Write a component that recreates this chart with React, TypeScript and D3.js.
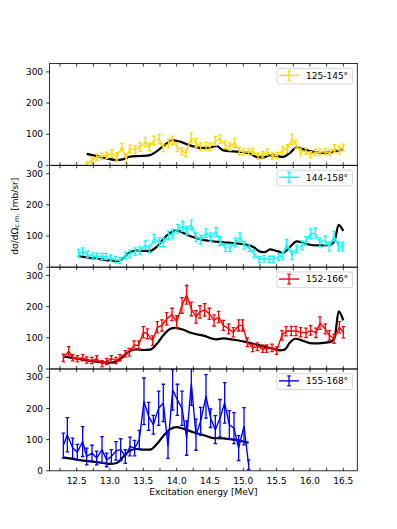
import React from 'react';
import * as d3 from 'd3';

const W = 397, H = 529;
const L = 49.6, R = 357.3, T = 63.5, B = 470.8;
const PH = (B - T) / 4;

const xMajor = [12.5, 13.0, 13.5, 14.0, 14.5, 15.0, 15.5, 16.0, 16.5];
const xMinor = [12.25, 12.75, 13.25, 13.75, 14.25, 14.75, 15.25, 15.75, 16.25];
const yTicks = [0, 100, 200, 300];
const xDomain = [12.094, 16.71];
const yDomain = [0, 327];

// Panel 1: 125-145°
const yelE = [12.65,12.73,12.80,12.88,12.95,13.03,13.10,13.18,13.24,13.30,13.38,13.45,13.53,13.59,13.66,13.74,13.80,13.88,13.94,14.01,14.08,14.14,14.22,14.29,14.36,14.44,14.50,14.58,14.65,14.73,14.80,14.87,14.94,15.00,15.08,15.14,15.22,15.29,15.36,15.44,15.51,15.59,15.66,15.73,15.79,15.86,15.94,16.01,16.08,16.15,16.23,16.30,16.37,16.44,16.50];
const yelV = [4,16,26,29,32,38,29,59,22,53,50,59,75,59,80,84,56,70,80,58,45,40,88,72,60,62,60,78,84,66,60,72,46,43,43,45,30,34,43,30,32,48,54,83,67,43,45,34,41,43,43,41,54,48,56];
const yelErr = [6,10,10,10,10,12,12,12,14,12,12,14,14,12,14,15,12,14,14,14,12,12,16,14,12,12,12,14,14,12,12,14,12,10,10,10,10,10,10,10,10,12,12,16,14,12,10,10,10,10,10,10,12,12,12];
const yelThE = [12.65,12.8,12.95,13.1,13.2,13.3,13.45,13.6,13.7,13.85,13.95,14.05,14.2,14.35,14.5,14.6,14.7,14.85,15.0,15.1,15.2,15.3,15.4,15.5,15.6,15.7,15.8,15.9,16.0,16.1,16.2,16.3,16.4,16.5];
const yelThV = [37,30,22,17,20,28,30,33,45,70,80,76,64,56,57,62,48,45,42,38,27,25,33,30,27,40,58,52,46,42,40,42,45,54];

// Panel 2: 144-158°
const cyaE = [12.53,12.59,12.66,12.74,12.80,12.88,12.94,13.01,13.08,13.15,13.23,13.30,13.38,13.45,13.53,13.59,13.66,13.74,13.80,13.88,13.94,14.02,14.09,14.15,14.22,14.29,14.36,14.44,14.51,14.59,14.65,14.73,14.80,14.88,14.95,15.01,15.09,15.16,15.24,15.31,15.39,15.45,15.53,15.59,15.65,15.73,15.80,15.88,15.94,16.01,16.08,16.15,16.23,16.29,16.36,16.43,16.49];
const cyaV = [45,50,41,36,35,34,34,29,24,21,38,43,50,54,70,59,91,80,80,102,107,123,131,118,135,96,88,109,96,113,84,62,62,80,96,70,62,43,24,27,25,25,32,38,75,38,59,70,84,107,109,80,86,66,100,66,66];
const cyaErr = [12,12,10,10,10,10,10,10,10,10,10,12,12,12,14,12,14,14,14,14,14,14,16,14,16,14,14,14,14,14,14,12,12,14,14,12,12,12,10,10,10,10,10,12,14,14,12,14,14,16,16,14,14,14,16,14,14];
const cyaThE = [12.53,12.7,12.9,13.05,13.12,13.2,13.3,13.4,13.5,13.6,13.7,13.8,13.9,14.0,14.1,14.2,14.35,14.5,14.7,14.9,15.05,15.15,15.25,15.32,15.4,15.5,15.6,15.7,15.8,15.9,16.0,16.1,16.2,16.3,16.37,16.43,16.5];
const cyaThV = [35,30,24,20,19,30,48,53,52,52,65,90,110,118,110,100,90,84,80,76,72,65,50,48,57,52,47,65,83,78,72,70,70,72,85,136,116];

// Panel 3: 152-166°
const redE = [12.30,12.38,12.44,12.51,12.59,12.65,12.73,12.80,12.88,12.95,13.02,13.09,13.15,13.23,13.29,13.36,13.43,13.50,13.56,13.64,13.71,13.78,13.85,13.93,14.00,14.08,14.15,14.22,14.29,14.35,14.42,14.49,14.56,14.63,14.70,14.78,14.85,14.93,14.99,15.06,15.14,15.21,15.29,15.35,15.43,15.50,15.58,15.64,15.72,15.79,15.86,15.94,16.01,16.09,16.15,16.23,16.29,16.36,16.44,16.50];
const redV = [36,57,36,33,36,29,27,33,17,24,33,27,36,49,54,76,76,118,113,91,134,140,161,175,151,204,238,193,167,183,190,177,156,167,140,129,118,140,140,86,68,72,65,65,68,59,108,121,122,122,118,116,124,116,147,129,108,97,134,118];
const redErr = [12,15,10,10,10,10,10,10,10,10,10,10,10,10,12,14,14,18,16,15,18,18,20,20,20,25,30,22,20,20,20,18,18,18,16,16,15,18,18,14,12,12,12,12,12,12,15,15,15,15,15,15,15,15,20,16,15,15,18,18];
const redThE = [12.3,12.5,12.7,12.9,13.0,13.1,13.2,13.3,13.4,13.5,13.6,13.7,13.8,13.9,13.98,14.1,14.2,14.4,14.6,14.7,14.85,15.05,15.2,15.35,15.45,15.55,15.62,15.7,15.78,15.9,16.0,16.1,16.2,16.3,16.37,16.43,16.5];
const redThV = [40,33,26,21,20,24,40,58,63,61,62,80,108,128,132,126,117,107,95,98,94,86,78,70,65,60,62,85,97,90,83,82,84,86,100,185,156];

// Panel 4: 155-168°
const bluE = [12.30,12.36,12.44,12.51,12.59,12.65,12.73,12.80,12.88,12.95,13.02,13.09,13.16,13.23,13.30,13.37,13.44,13.51,13.58,13.65,13.73,13.80,13.87,13.94,14.01,14.08,14.15,14.22,14.29,14.36,14.44,14.51,14.58,14.65,14.72,14.79,14.86,14.93,15.01,15.08];
const bluV = [81,116,73,60,94,46,57,41,68,35,46,64,68,46,78,73,100,223,175,148,201,218,80,260,228,201,105,280,116,159,239,169,132,169,218,148,137,73,143,19];
const bluErr = [40,55,32,25,48,27,25,22,42,22,22,30,35,22,30,25,30,75,45,30,55,60,40,65,50,55,55,70,50,45,70,30,45,60,65,45,50,40,60,15];
const bluThE = [12.3,12.5,12.7,12.9,13.0,13.1,13.2,13.3,13.4,13.5,13.6,13.7,13.8,13.9,14.0,14.1,14.25,14.4,14.55,14.7,14.85,15.0,15.08];
const bluThV = [43,36,30,25,22,25,45,65,70,68,68,85,112,133,140,135,124,115,105,104,100,94,90];

const labels = ['125-145°', '144-158°', '152-166°', '155-168°'];
const colors = ['#FFD700', '#00FFFF', '#FF0000', '#0000FF'];
const seriesE = [yelE, cyaE, redE, bluE];
const seriesV = [yelV, cyaV, redV, bluV];
const seriesErr = [yelErr, cyaErr, redErr, bluErr];
const theoryE = [yelThE, cyaThE, redThE, bluThE];
const theoryV = [yelThV, cyaThV, redThV, bluThV];

const FONT = 'DejaVu Sans, sans-serif';

export default function App() {
  const x = d3.scaleLinear().domain(xDomain).range([L, R]);
  return (
    <svg width={W} height={H} style={{ position: 'absolute', left: 0, top: 0, background: '#fff' }} fontFamily={FONT}>
      <rect x={0} y={0} width={W} height={H} fill="#fff" />
      {labels.map((lab, i) => {
        const top = T + i * PH;
        const bot = top + PH;
        const y = d3.scaleLinear().domain(yDomain).range([bot, top]);
        const E = seriesE[i], V = seriesV[i], Er = seriesErr[i];
        const pts: [number, number][] = E.map((e, k) => [e, V[k]]);
        const th: [number, number][] = theoryE[i].map((e, k) => [e, theoryV[i][k]]);
        const dataLine = d3.line<[number, number]>().x(d => x(d[0])).y(d => y(d[1]))(pts) || '';
        const thLine = d3.line<[number, number]>().x(d => x(d[0])).y(d => y(d[1])).curve(d3.curveMonotoneX)(th) || '';
        const col = colors[i];
        const cap = 1.8;
        const clipId = `clip${i}`;
        return (
          <g key={i}>
            <defs>
              <clipPath id={clipId}>
                <rect x={L} y={top} width={R - L} height={PH} />
              </clipPath>
            </defs>
            <g clipPath={`url(#${clipId})`}>
              <path d={thLine} fill="none" stroke="#000" strokeWidth={2.2} strokeLinejoin="round" />
              <path d={dataLine} fill="none" stroke={col} strokeWidth={1.4} strokeLinejoin="round" />
              {E.map((e, k) => {
                const cx = x(e);
                const y1 = y(V[k] + Er[k]);
                const y0 = y(Math.max(0, V[k] - Er[k]));
                return (
                  <g key={k} stroke={col} strokeWidth={1.3}>
                    <line x1={cx} x2={cx} y1={y0} y2={y1} />
                    <line x1={cx - cap} x2={cx + cap} y1={y1} y2={y1} />
                    <line x1={cx - cap} x2={cx + cap} y1={y0} y2={y0} />
                  </g>
                );
              })}
            </g>
            {/* x ticks inward top & bottom */}
            {[...xMajor, ...xMinor].map((t, k) => (
              <g key={'xt' + k} stroke="#000" strokeWidth={0.8}>
                <line x1={x(t)} x2={x(t)} y1={bot} y2={bot - 3} />
                <line x1={x(t)} x2={x(t)} y1={top} y2={top + 3} />
              </g>
            ))}
            {/* y ticks */}
            {yTicks.map((t, k) => (
              <g key={'yt' + k}>
                <line x1={L} x2={L - 3.5} y1={y(t)} y2={y(t)} stroke="#000" strokeWidth={0.8} />
                <text x={L - 6.5} y={y(t)} fontSize={9} textAnchor="end" dominantBaseline="central" fill="#000">{t}</text>
              </g>
            ))}
            <rect x={L} y={top} width={R - L} height={PH} fill="none" stroke="#000" strokeWidth={0.8} />
            {/* legend */}
            <g>
              <rect x={277} y={top + 4.8} width={75.5} height={15.7} rx={2} fill="#fff" fillOpacity={0.8} stroke="#cccccc" strokeWidth={0.8} />
              <line x1={279} x2={299} y1={top + 11.9} y2={top + 11.9} stroke={col} strokeWidth={1.4} />
              <line x1={289} x2={289} y1={top + 7} y2={top + 16.8} stroke={col} strokeWidth={1.3} />
              <line x1={289 - cap} x2={289 + cap} y1={top + 7} y2={top + 7} stroke={col} strokeWidth={1.3} />
              <line x1={289 - cap} x2={289 + cap} y1={top + 16.8} y2={top + 16.8} stroke={col} strokeWidth={1.3} />
              <text x={306} y={top + 12.3} fontSize={9} dominantBaseline="central" fill="#000">{lab}</text>
            </g>
            {i === 3 && xMajor.map((t, k) => (
              <text key={'xl' + k} x={x(t)} y={B + 12.8} fontSize={9} textAnchor="middle" fill="#000">{t.toFixed(1)}</text>
            ))}
          </g>
        );
      })}
      <text x={(L + R) / 2} y={495} fontSize={9} textAnchor="middle" fill="#000">Excitation energy [MeV]</text>
      <text transform={`translate(15,${T + PH * 1.5}) rotate(-90)`} fontSize={9} textAnchor="middle" dominantBaseline="central" fill="#000">
        dσ/dΩ<tspan fontSize={6.5} dy={2}>c.m.</tspan><tspan dy={-2}> [mb/sr]</tspan>
      </text>
    </svg>
  );
}
